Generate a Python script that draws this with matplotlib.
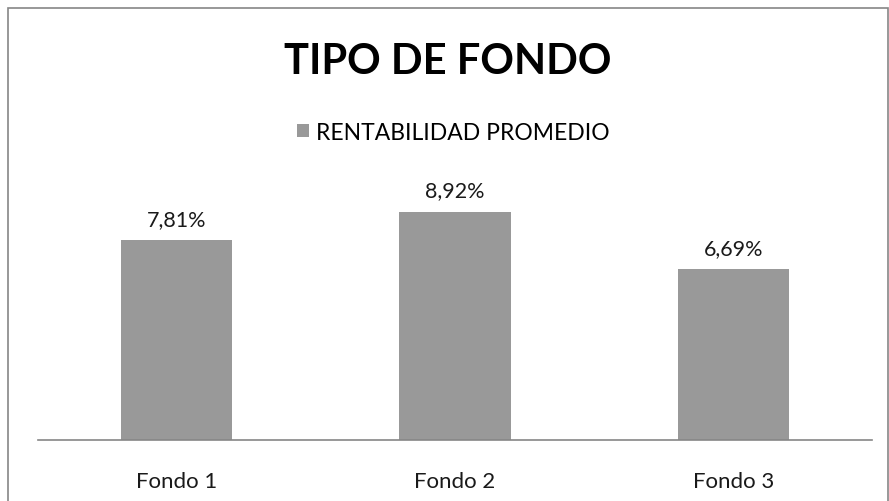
import matplotlib
matplotlib.use("Agg")
import matplotlib.pyplot as plt
from matplotlib.patches import Rectangle

categories = ["Fondo 1", "Fondo 2", "Fondo 3"]
values = [7.81, 8.92, 6.69]
labels = ["7,81%", "8,92%", "6,69%"]
series_name = "RENTABILIDAD PROMEDIO"

plt.rcParams['font.family'] = ['Lato', 'DejaVu Sans']

fig = plt.figure(figsize=(8.89, 5.02), dpi=100)
ax = fig.add_axes([0.0422, 0.1215, 0.939, 0.51])

x = range(len(categories))
bars = ax.bar(x, values, width=0.4, color='#999999', label=series_name)
for b, lab in zip(bars, labels):
    ax.annotate(lab, (b.get_x() + b.get_width() / 2, b.get_height()),
                xytext=(0, 8), textcoords='offset points',
                ha='center', va='bottom', fontsize=15.5, color='#1a1a1a')

ax.set_xlim(-0.5, 2.5)
ax.set_ylim(0, 10)
ax.set_xticks(list(x))
ax.set_xticklabels(categories, fontsize=16, color='#1a1a1a')
ax.tick_params(axis='x', length=0, pad=22)
ax.set_yticks([])
for s in ['top', 'right', 'left']:
    ax.spines[s].set_visible(False)
ax.spines['bottom'].set_color('#868686')
ax.spines['bottom'].set_linewidth(1.2)

fig.text(0.504, 0.877, "TIPO DE FONDO", ha='center', va='center',
         fontsize=30, fontweight='bold', color='black')
fig.legend(loc='center', bbox_to_anchor=(0.51, 0.735), frameon=False,
           fontsize=16.5, handlelength=0.55, handleheight=0.55, handletextpad=0.3)

fig.patches.append(Rectangle((8 / 889, -0.1), 880 / 889, 1.1 - 9 / 502,
                             transform=fig.transFigure, fill=False,
                             edgecolor='#868686', linewidth=1.2))

fig.savefig("out.png", dpi=100)
